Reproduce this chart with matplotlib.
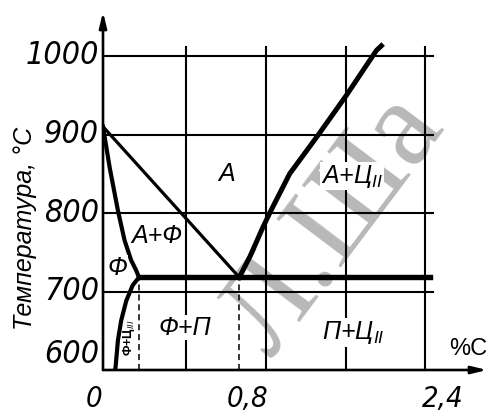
import numpy as np
import matplotlib
matplotlib.use('Agg')
import matplotlib.pyplot as plt
from matplotlib.transforms import blended_transform_factory

plt.rcParams['font.family'] = ['Liberation Sans', 'DejaVu Sans']
plt.rcParams['mathtext.fontset'] = 'custom'
plt.rcParams['mathtext.it'] = 'Liberation Sans:italic'
plt.rcParams['mathtext.rm'] = 'Liberation Sans'

# схематичная шкала по углероду: участок 0..0,02 % сильно растянут
carbon_knots = [0, 0.02, 0.8, 2.4, 3.0]
pos_knots = [0, 36, 136.3, 322, 391.6]

t_eut = 718          # эвтектоидная горизонталь PSK
G = (0.0, 910)
P = (0.02, t_eut)
S = (0.8, t_eut)

# линия GP
gp_c = [0, 0.0037, 0.0083, 0.012, 0.0156, 0.0184, 0.02]
gp_t = [910, 858, 803, 765, 740, 727, 718]
# линия PQ
pq_c = [0.02, 0.0165, 0.0129, 0.0101, 0.0083, 0.007, 0.0067]
pq_t = [718, 708, 688, 663, 638, 604, 600]
# линия SE
se_c = [0.8, 0.89, 1.004, 1.062, 1.234, 1.478, 1.723, 1.981, 2.024]
se_t = [718, 744, 782, 800, 850, 899, 950, 1007, 1013]

y_ticks = [600, 700, 800, 900, 1000]
x_labels = ['0', '0,8', '2,4']
x_label_c = [0, 0.8, 2.4]

regions = [
    ('А', 0.70, 850),
    ('А+Ц$_{II}$', 1.77, 847),
    ('А+Ф', 0.162, 771),
    ('Ф', 0.0079, 730),
    ('Ф+П', 0.375, 654),
    ('П+Ц$_{II}$', 1.78, 648),
]

digits = dict(family='DejaVu Sans', stretch='condensed', style='oblique')


def fwd(c):
    return np.interp(c, carbon_knots, pos_knots)


def inv(p):
    return np.interp(p, pos_knots, carbon_knots)


fig = plt.figure(figsize=(4.89, 4.13), dpi=100)
ax = fig.add_axes([103/489, 1-370/413, 384/489, 358/413])
ax.patch.set_visible(False)
ax.set_xscale('function', functions=(fwd, inv))
ax.set_xlim(0, inv(384))
ax.set_ylim(600, 600 + 358/0.785)
for sp in ax.spines.values():
    sp.set_visible(False)
ax.set_xticks([])
ax.set_yticks([])

# водяной знак
fig.text(335/489, 1-225/413, 'Л.Ша', rotation=53, ha='center', va='center',
         fontsize=88, family='Liberation Serif', color='#b8b8b8', zorder=-1)

# сетка
xt = blended_transform_factory(ax.transAxes, ax.transData)
yt = ax.get_xaxis_transform()
for t in y_ticks[1:]:
    ax.plot([0, 0.859], [t, t], color='k', lw=1.5, transform=xt, zorder=2)
for f in [0.2173, 0.4243, 0.6339, 0.8385]:
    ax.plot([f, f], [0, 0.902], color='k', lw=1.5, transform=ax.transAxes, zorder=2)

# оси со стрелками
arr = dict(arrowstyle='-|>,head_length=0.9,head_width=0.22', lw=1.9, color='k',
           shrinkA=0, shrinkB=0)
ax.annotate('', xy=(0, 1), xytext=(0, 0), xycoords='axes fraction', arrowprops=arr)
ax.annotate('', xy=(1, 0), xytext=(0, 0), xycoords='axes fraction', arrowprops=arr)

# линии диаграммы
ax.plot([G[0], S[0]], [G[1], S[1]], color='k', lw=2.3, zorder=4, solid_capstyle='round')
ax.plot(gp_c, gp_t, color='k', lw=3.0, zorder=4, solid_joinstyle='round')
ax.plot(pq_c, pq_t, color='k', lw=3.0, zorder=4, solid_joinstyle='round')
ax.plot(se_c, se_t, color='k', lw=3.6, zorder=4, solid_joinstyle='round')
ax.plot([P[0], inv(0.852*384)], [t_eut, t_eut], color='k', lw=3.9, zorder=4)
for c in [P[0], S[0]]:
    ax.plot([c, c], [600, t_eut], color='k', lw=1.1, ls=(0, (4, 2.5)), zorder=3)

# подписи делений
for t in y_ticks:
    ax.text(-4/384, t, str(t), transform=xt, ha='right',
            va='center' if t > 600 else 'bottom', fontsize=23, **digits)
for lbl, c, ha, dx in zip(x_labels, x_label_c, ['right', 'left', 'left'], [-1, -13, -3]):
    ax.annotate(lbl, xy=(c, 0), xycoords=yt, xytext=(dx, -37), textcoords='offset pixels',
                ha=ha, va='baseline', fontsize=21, **digits)

# области
for txt, c, t in regions:
    ax.text(c, t, txt, ha='center', va='center', fontsize=18, style='italic', zorder=5,
            bbox=dict(facecolor='white', edgecolor='none', pad=0.5))
ax.text(0.0143, 641, 'Ф+Ц$_{III}$', rotation=90, ha='center', va='center', fontsize=9,
        weight='bold', zorder=5)
ax.text(2.776, 627, '%C', ha='center', va='center', fontsize=17)

fig.text(25/489, 1-228/413, 'Температура, °C', rotation=90, ha='center', va='center',
         fontsize=18, style='italic')

fig.savefig('out.png', dpi=100)
